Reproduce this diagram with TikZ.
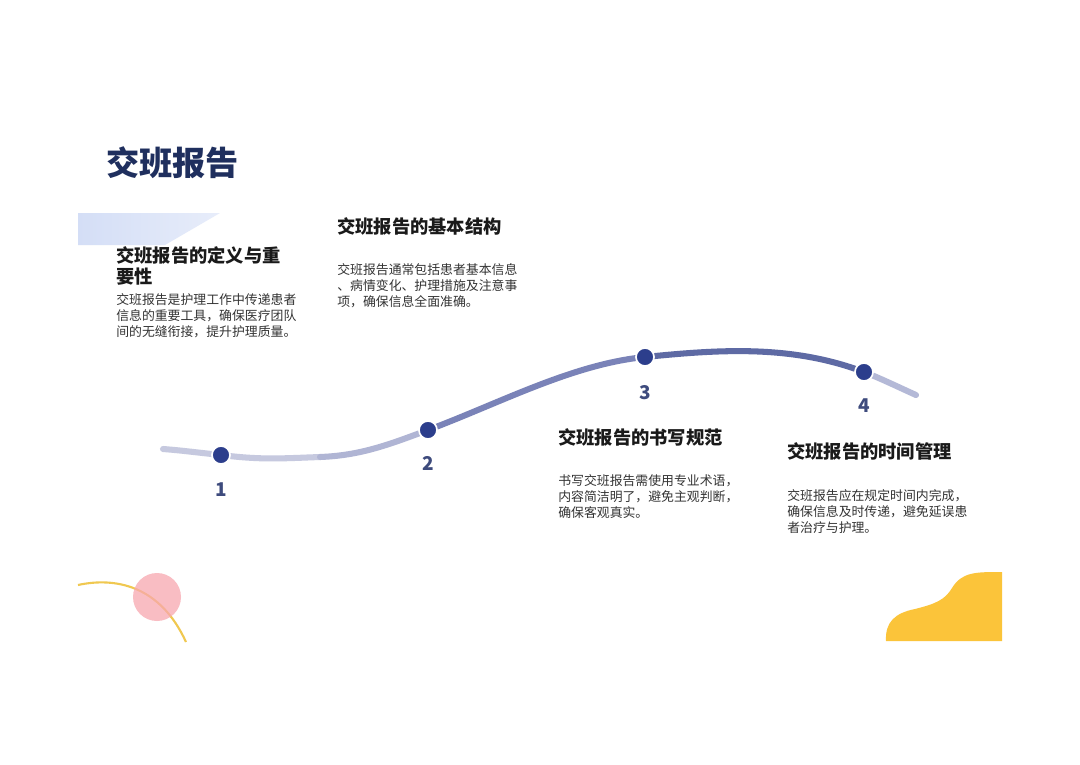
\documentclass[tikz,border=0pt]{standalone}
\usepackage{fontspec}
\setmainfont{Noto Sans CJK SC}
\usepackage{xcolor}
\definecolor{navy}{RGB}{31, 47, 94}
\definecolor{dotblue}{RGB}{44, 62, 140}
\definecolor{numgray}{RGB}{62, 75, 125}
\definecolor{lav1}{RGB}{198, 201, 223}
\definecolor{lav2}{RGB}{176, 181, 212}
\definecolor{wave1}{RGB}{122, 131, 184}
\definecolor{wave2}{RGB}{94, 106, 164}
\definecolor{wave3}{RGB}{180, 185, 215}
\definecolor{skyband}{RGB}{212, 222, 246}
\definecolor{sun}{RGB}{251, 196, 58}
\definecolor{linegold}{RGB}{240, 200, 80}
\definecolor{blush}{RGB}{248, 168, 176}
\definecolor{ink}{RGB}{26, 26, 26}
\definecolor{bodyink}{RGB}{51, 51, 51}
\usepackage{tikz}
\usetikzlibrary{positioning}
\tikzset{
  titletext/.style={anchor=west, inner sep=0pt, text=navy,
    font=\fontsize{23.6}{28}\selectfont\bfseries},
  stephead/.style={inner sep=0pt, align=left, text=ink,
    font=\fontsize{13}{14.9}\selectfont\bfseries},
  steptext/.style={inner sep=0pt, align=left, text=bodyink,
    font=\fontsize{9.15}{11.5}\selectfont},
  stepdot/.style={circle, fill=dotblue, draw=white, line width=1.2pt,
    minimum size=0.45cm, inner sep=0pt},
  stepnum/.style={inner sep=0pt, text=numgray,
    font=\fontsize{13.5}{16}\selectfont\bfseries},
  wavepart/.style={line width=4.3pt, line cap=round}
}
\begin{document}
\begin{tikzpicture}[x=0.025cm, y=-0.025cm]

  \useasboundingbox[fill=white] (0,0) rectangle (1080,764);

  % decorations
  \path[left color=skyband, right color=skyband!55]
    (78,213) -- (220,213) -- (165,245) -- (78,245) -- cycle;
  \fill[sun] (886,641) .. controls (885,622) and (895,613) .. (915,609)
    .. controls (935,604) and (945,600) .. (952,588)
    .. controls (962,572) and (975,572) .. (1002,572) -- (1002,641) -- cycle;
  \draw[linegold, line width=1.5pt] (78,585) .. controls (115,577) and (160,585) .. (186,642);
  \fill[blush, opacity=0.75] (157,597) circle (24);

  \node[titletext] (title) at (106,163) {交班报告};

  % timeline
  \coordinate (w0) at (163,449);
  \coordinate (p1) at (221,455);
  \coordinate (m12) at (320,457);
  \coordinate (p2) at (428,430);
  \coordinate (p3) at (645,357);
  \coordinate (p4) at (864,372);
  \coordinate (w1) at (916,395);

  \draw[wavepart, lav1] (w0) .. controls +(20,1.5) and +(-20,-2) .. (p1);
  \draw[wavepart, lav1] (p1) .. controls +(40,5) and +(-40,1.5) .. (m12);
  \draw[wavepart, lav2] (m12) .. controls +(40,-1.5) and +(-40,15) .. (p2);
  \draw[wavepart, wave1] (p2) .. controls +(72,-27) and +(-72,7) .. (p3);
  \draw[wavepart, wave2] (p3) .. controls +(73,-7.3) and +(-73,-27.7) .. (p4);
  \draw[wavepart, wave3] (p4) .. controls +(17,6.5) and +(-17,-7.6) .. (w1);

  \node[stepdot] (d1) at (p1) {};
  \node[stepdot] (d2) at (p2) {};
  \node[stepdot] (d3) at (p3) {};
  \node[stepdot] (d4) at (p4) {};

  \node[stepnum, below=0.45cm of d1] (n1) {1};
  \node[stepnum, below=0.42cm of d2] (n2) {2};
  \node[stepnum, below=0.45cm of d3] (n3) {3};
  \node[stepnum, below=0.42cm of d4] (n4) {4};

  % texts
  \node[stephead, anchor=north west] (h1) at (116,246.8) {交班报告的定义与重\\要性};
  \node[steptext, below=0.18cm of h1.south west, anchor=north west] (t1)
    {交班报告是护理工作中传递患者\\信息的重要工具，确保医疗团队\\间的无缝衔接，提升护理质量。};

  \node[stephead, anchor=west] (h2) at (337,226) {交班报告的基本结构};
  \node[steptext, below=0.7cm of h2.south west, anchor=north west] (t2)
    {交班报告通常包括患者基本信息\\、病情变化、护理措施及注意事\\项，确保信息全面准确。};

  \node[stephead, anchor=west] (h3) at (558,437) {交班报告的书写规范};
  \node[steptext, below=0.7cm of h3.south west, anchor=north west] (t3)
    {书写交班报告需使用专业术语，\\内容简洁明了，避免主观判断，\\确保客观真实。};

  \node[stephead, anchor=west] (h4) at (787,451) {交班报告的时间管理};
  \node[steptext, below=0.72cm of h4.south west, anchor=north west] (t4)
    {交班报告应在规定时间内完成，\\确保信息及时传递，避免延误患\\者治疗与护理。};

\end{tikzpicture}
\end{document}
